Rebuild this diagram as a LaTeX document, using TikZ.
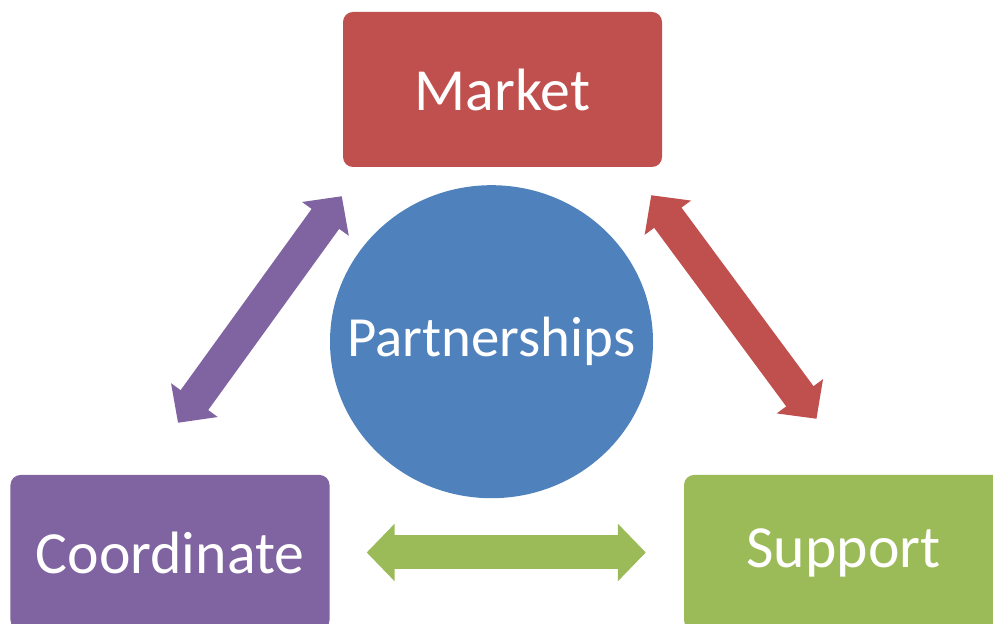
\documentclass[tikz,border=0pt]{standalone}
\usepackage{fontspec}
\setmainfont{Carlito}
\usetikzlibrary{arrows.meta,shapes.geometric}
\definecolor{mktred}{HTML}{C0504D}
\definecolor{hubblue}{HTML}{4F81BD}
\definecolor{crdpurple}{HTML}{8064A2}
\definecolor{supgreen}{HTML}{9BBB59}
\begin{document}
\begin{tikzpicture}[x=1bp,y=1bp,
    box/.style={rectangle,rounded corners=10bp,minimum width=319bp,minimum height=155bp,
      text=white,font=\fontsize{60}{66}\selectfont,inner sep=0pt},
    fatarrow/.style={line width=34bp,{Triangle[length=28bp,width=56bp]}-{Triangle[length=28bp,width=56bp]}}]
        \useasboundingbox (0,0) rectangle (993,624);
        \node[box,fill=mktred] (market) at (502.5,534.5) {Market};
        \node[box,fill=crdpurple] (coord) at (170,71.5) {Coordinate};
        \node[box,fill=supgreen] (support) at (843.5,71.5) {Support};
        \node[ellipse,fill=hubblue,minimum width=323bp,minimum height=313bp,inner sep=0pt,
          text=white,font=\fontsize{57}{63}\selectfont] (hub) at (491.5,282.3) {\makebox[0pt]{Partnerships}};
        % double arrows between the boxes
        \draw[fatarrow,crdpurple] ([shift={(8,52)}]coord.north) -- ([shift={(-1,-29)}]market.south west);
        \draw[fatarrow,mktred] ([shift={(-11,-28)}]market.south east) -- ([shift={(-27,56)}]support.north);
        \draw[fatarrow,supgreen] ([shift={(37,0)}]coord.east) -- ([shift={(-38,0)}]support.west);
      \end{tikzpicture}
\end{document}
